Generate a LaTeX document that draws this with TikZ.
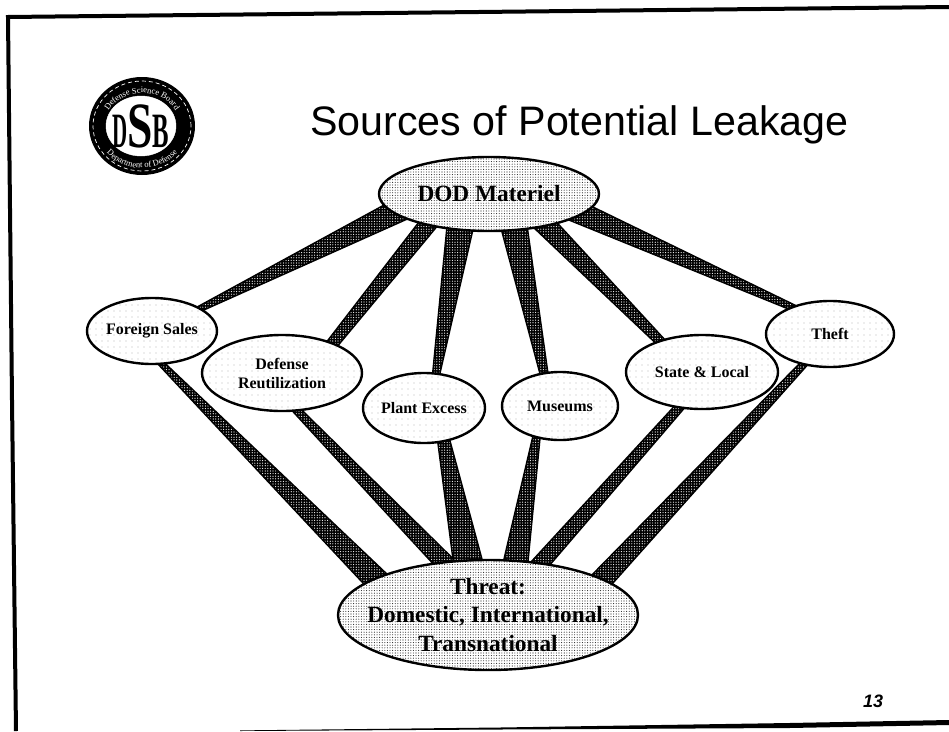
\documentclass[tikz,border=0pt]{standalone}
\usepackage{fontspec}
\setmainfont{Liberation Serif}
\newfontfamily\arialfont{Liberation Sans}
\usetikzlibrary{shapes.geometric,patterns.meta,decorations.text}
\pgfdeclarelayer{bglayer}
\pgfsetlayers{bglayer,main}
\tikzset{
  blob/.style={ellipse,draw=black,line width=2.4pt,inner sep=0pt,outer sep=0pt,align=center,
    font=\bfseries\fontsize{16}{19}\selectfont,
    preaction={fill=white},pattern={Dots[distance=6pt,radius=.42pt]},pattern color=black!80},
  bigblob/.style={blob,font=\bfseries\fontsize{23.3}{28.5}\selectfont,
    pattern={Dots[distance=2.6pt,radius=.55pt]},pattern color=black!85},
  spokeshape/.style={draw=black,line width=1.4pt,line join=round,
    preaction={fill=black},pattern={Dots[distance=2.6pt,radius=.6pt]},pattern color=white},
  frameline/.style={draw=black,line width=4pt,line join=miter},
}
\newcommand{\spoke}[6]{%
  \draw[spokeshape] (#1.#3) -- (#2.#5) -- (#2.#6) -- (#1.#4) -- cycle;}
\begin{document}
\begin{tikzpicture}[x=1pt,y=1pt]
\begin{pgfonlayer}{bglayer}
\fill[white] (0,-731) rectangle (949,0);
\end{pgfonlayer}
\useasboundingbox (0,-731) rectangle (949,0);
% scanned frame
\draw[frameline] (949,-7) -- (8,-17) -- (12,-400) -- (16,-731);
\fill[black] (240,-730.4) -- (500,-727.5) -- (789,-723) -- (949,-720) -- (949,-725) -- (789,-728) -- (500,-729.5) -- (240,-731) -- cycle;
% logo
\node[ellipse,fill=black,minimum width=106pt,minimum height=98pt,inner sep=0pt] (logo) at (142,-126) {};
\draw[white,line width=.7pt,dash pattern=on 4pt off 3pt] (142,-126) ellipse [x radius=49pt,y radius=45pt];
\node[ellipse,fill=white,draw=white,minimum width=70pt,minimum height=60pt,inner sep=-8pt,
  font=\bfseries\fontsize{38}{38}\selectfont] (seal) at (141,-126) {\scalebox{.55}[1.3]{D}\scalebox{1.2}[1.7]{S}\scalebox{.65}[1.3]{B}};
\path[decorate,decoration={text along path,text align=center,
  text={|\color{white}\fontsize{8.5}{9}\selectfont|Defense Science Board}}]
  (142,-126) ++(160:38pt and 33pt) arc[start angle=160,end angle=20,x radius=38pt,y radius=33pt];
\path[decorate,decoration={text along path,text align=center,
  text={|\color{white}\fontsize{8.5}{9}\selectfont|Department of Defense}}]
  (142,-126) ++(205:46pt and 42pt) arc[start angle=205,end angle=335,x radius=46pt,y radius=42pt];
% title and page number
\node[anchor=base west,inner sep=0pt,font=\arialfont\fontsize{41.2}{41.2}\selectfont] (title) at (310,-135) {Sources of Potential Leakage};
\node[inner sep=0pt,font=\arialfont\bfseries\itshape\fontsize{18}{18}\selectfont] (page) at (873,-701) {13};
% nodes
\node[bigblob,minimum width=220pt,minimum height=74pt] (dod) at (489,-194) {DOD Materiel};
\node[bigblob,minimum width=300pt,minimum height=110pt,inner xsep=-16pt,inner ysep=-6pt] (threat) at (488,-615) {Threat:\\Domestic, International,\\Transnational};
\node[blob,minimum width=130pt,minimum height=66pt] (fs) at (152,-331) {Foreign Sales};
\node[blob,minimum width=160pt,minimum height=76pt] (dr) at (282,-373) {Defense\\Reutilization};
\node[blob,minimum width=122pt,minimum height=70pt] (pe) at (424,-408) {Plant Excess};
\node[blob,minimum width=116pt,minimum height=68pt] (mu) at (560,-406) {Museums};
\node[blob,minimum width=152pt,minimum height=74pt] (sl) at (702,-372) {State \& Local};
\node[blob,minimum width=128pt,minimum height=66pt] (th) at (830,-334) {Theft};
% connectors
\begin{pgfonlayer}{bglayer}
\spoke{dod}{fs}{186}{197}{28.8}{22.7}
\spoke{dod}{dr}{202}{212}{35}{26.6}
\spoke{dod}{pe}{219.8}{246.6}{76.8}{65.6}
\spoke{dod}{mu}{289.4}{318.1}{122}{110.9}
\spoke{dod}{sl}{323.5}{337.1}{148}{139}
\spoke{dod}{th}{342.2}{353.4}{149}{140.5}
\spoke{threat}{fs}{166.5}{158.4}{280}{292}
\spoke{threat}{dr}{137.7}{121.4}{285}{298.4}
\spoke{threat}{pe}{123}{96.2}{292.4}{309.1}
\spoke{threat}{mu}{74.7}{53}{228}{238}
\spoke{threat}{sl}{51.5}{39.8}{231.5}{244.7}
\spoke{threat}{th}{21.4}{14}{224}{234.6}
\end{pgfonlayer}
\end{tikzpicture}
\end{document}
